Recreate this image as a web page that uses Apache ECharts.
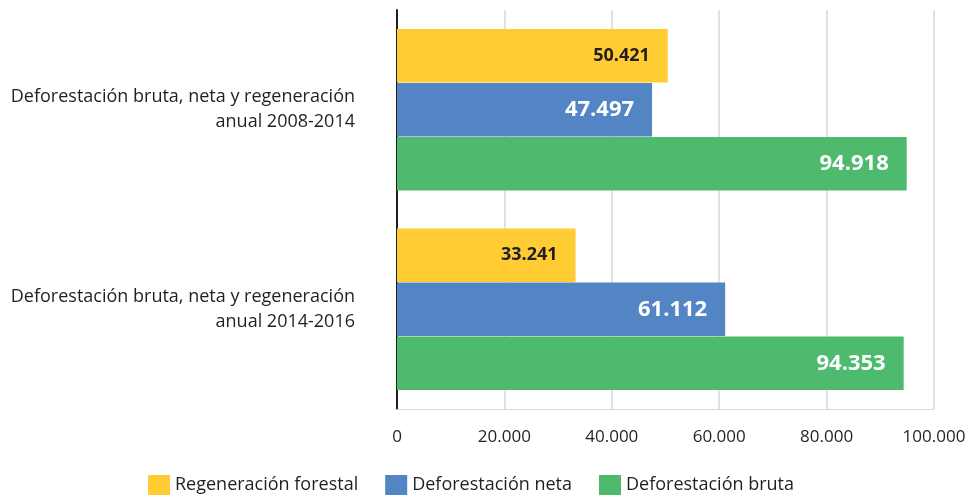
<!DOCTYPE html>
<html>
<head>
<meta charset="utf-8">
<script src="https://cdn.jsdelivr.net/npm/echarts@6/dist/echarts.min.js"></script>
<style>
  html, body { margin: 0; padding: 0; background: #fff; }
  #chart { width: 971px; height: 498px; }
</style>
</head>
<body>
<div id="chart"></div>
<script>
// periodos
var categories = [
  'Deforestación bruta, neta y regeneración\nanual 2008-2014',
  'Deforestación bruta, neta y regeneración\nanual 2014-2016'
];
var seriesNames = ['Regeneración forestal', 'Deforestación neta', 'Deforestación bruta'];
var regeneracion = [50421, 33241];
var defNeta = [47497, 61112];
var defBruta = [94918, 94353];
var xTicks = [0, 20000, 40000, 60000, 80000, 100000];

var colors = ['#FFCC33', '#5385C4', '#4EBA6E'];
var fontName = 'Open Sans';

function fmt(v) {
  return String(v).replace(/\B(?=(\d{3})+(?!\d))/g, '.');
}

function makeSeries(name, data, color, labelColor) {
  return {
    name: name,
    type: 'bar',
    data: data,
    itemStyle: { color: color },
    barGap: '1%',
    barCategoryGap: '19%',
    label: {
      show: true,
      position: 'insideRight',
      distance: 18,
      color: labelColor,
      fontFamily: fontName,
      fontWeight: 'bold',
      fontSize: labelColor == '#fff' ? 22 : 18,
      formatter: function(p) { return fmt(p.value); }
    }
  };
}

var chart = echarts.init(document.getElementById('chart'));
var option = {
  animation: false,
  color: colors,
  grid: { left: 397, right: 37, top: 10, bottom: 89, containLabel: false },
  legend: {
    top: 473,
    left: 148,
    padding: 0,
    itemWidth: 22,
    itemHeight: 20,
    itemGap: 27,
    icon: 'rect',
    textStyle: { fontFamily: fontName, fontSize: 18, color: '#231f20', lineHeight: 24 },
    data: seriesNames
  },
  xAxis: {
    type: 'value',
    min: xTicks[0],
    max: xTicks[xTicks.length - 1],
    interval: 20000,
    axisLine: { show: true, lineStyle: { color: '#d9d9d9' } },
    axisTick: { show: false },
    splitLine: { lineStyle: { color: '#d9d9d9', width: 1.5 } },
    axisLabel: {
      margin: 20,
      fontFamily: fontName,
      fontSize: 17,
      color: '#231f20',
      formatter: function(v) { return fmt(v); }
    }
  },
  yAxis: {
    type: 'category',
    inverse: true,
    data: categories,
    axisLine: { show: true, lineStyle: { color: '#231f20', width: 2 } },
    axisTick: { show: false },
    axisLabel: {
      margin: 42,
      align: 'right',
      lineHeight: 25,
      fontFamily: fontName,
      fontSize: 18,
      color: '#231f20'
    }
  },
  series: [
    makeSeries(seriesNames[0], regeneracion, colors[0], '#231f20'),
    makeSeries(seriesNames[1], defNeta, colors[1], '#fff'),
    makeSeries(seriesNames[2], defBruta, colors[2], '#fff')
  ]
};
chart.setOption(option);
</script>
</body>
</html>
